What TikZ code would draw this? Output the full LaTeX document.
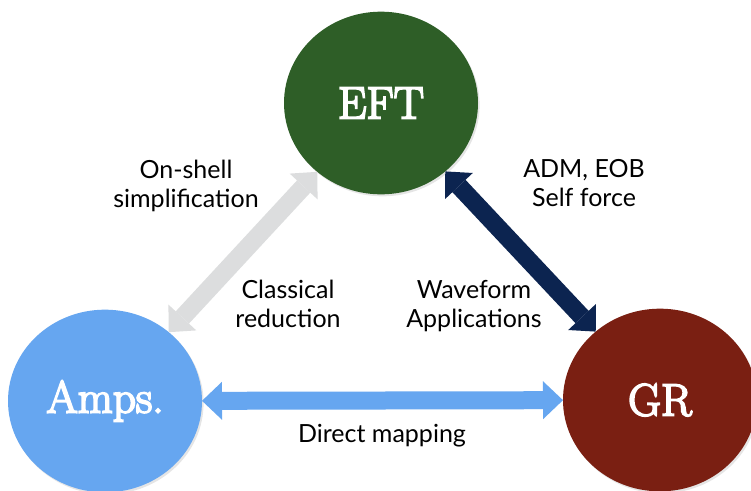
\documentclass[tikz,border=0pt]{standalone}
\usepackage{fontspec}
\newfontfamily\labelfont{Lato}
\newfontface\theoryfont{Latin Modern Roman}[FakeBold=4]
\usetikzlibrary{arrows.meta,shapes.geometric,shadows}

\definecolor{eftgreen}{RGB}{46,94,39}
\definecolor{ampsblue}{RGB}{102,166,240}
\definecolor{grred}{RGB}{122,31,18}
\definecolor{onshellgray}{RGB}{220,221,222}
\definecolor{wavenavy}{RGB}{12,36,80}

\begin{document}
\begin{tikzpicture}[x=0.75pt,y=-0.75pt,
  theory/.style={ellipse,minimum width=145.5pt,minimum height=137pt,inner sep=0pt,outer sep=0pt,
    text=white,font=\theoryfont\fontsize{34}{36}\selectfont,
    drop shadow={opacity=0.2,shadow xshift=1.2pt,shadow yshift=-1.5pt}},
  link/.style={line width=13.5pt,
    {Triangle[length=15pt,width=28.5pt,line width=0pt]}-{Triangle[length=15pt,width=28.5pt,line width=0pt]}},
  lbl/.style={font=\labelfont\fontsize{18.75}{21.75}\selectfont,align=center,inner sep=0pt}]
\useasboundingbox (0,0) rectangle (751,490);
\clip (0,0) rectangle (751,490);
\fill[white] (0,0) rectangle (751,490);
% the three theories
\node[theory,fill=eftgreen] (eft) at (381,103) {EFT};
\node[theory,fill=ampsblue] (amps) at (105,401) {Amps.};
\node[theory,fill=grred] (gr) at (660,400) {GR};
% connectors
\draw[link,onshellgray] (amps) -- (eft);
\draw[link,wavenavy] (eft) -- (gr);
\draw[link,ampsblue] (amps) -- (gr);
% labels
\node[lbl] (onshell) at (186,186) {On-shell\\simplification};
\node[lbl] (adm) at (584,183) {ADM, EOB\\Self force};
\node[lbl] (classical) at (288,304) {Classical\\reduction};
\node[lbl] (waveform) at (474,306) {Waveform\\Applications};
\node[lbl] (direct) at (382,436) {Direct mapping};
\end{tikzpicture}
\end{document}
